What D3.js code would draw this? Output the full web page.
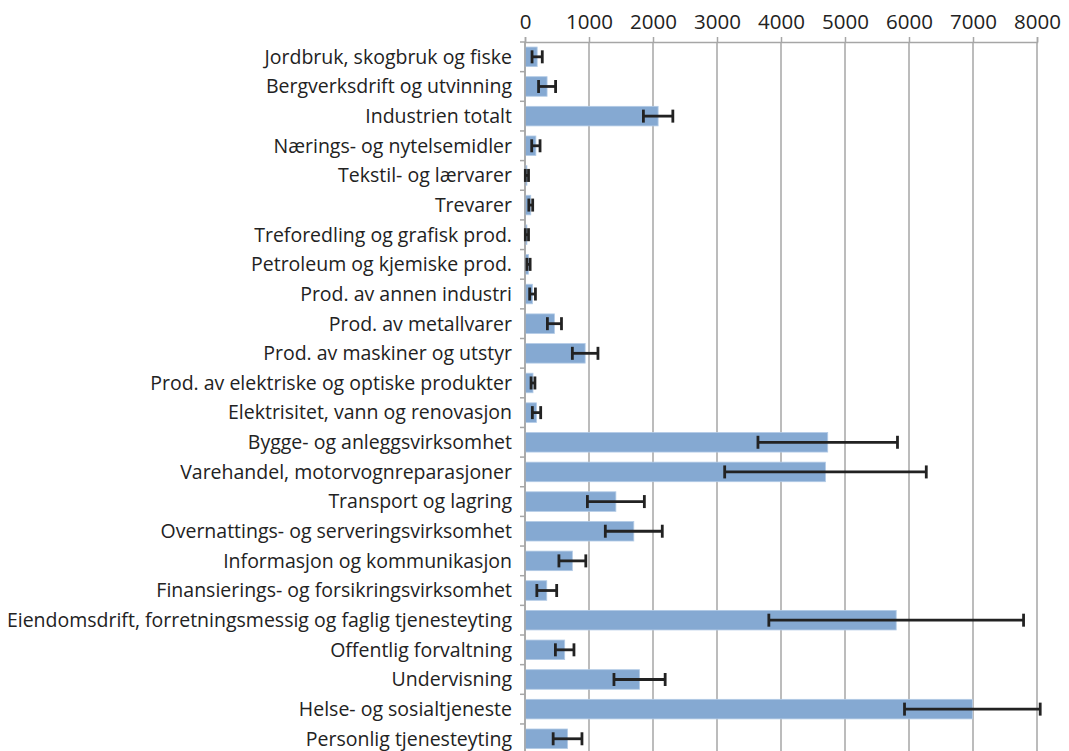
<!DOCTYPE html>
<html>
<head>
<meta charset="utf-8">
<script src="https://cdn.jsdelivr.net/npm/d3@7"></script>
<style>
  body { margin: 0; background: #fff; overflow: hidden; }
  svg { display: block; }
</style>
</head>
<body>
<div id="chart"></div>
<script>
// data
var categories = [
  "Jordbruk, skogbruk og fiske",
  "Bergverksdrift og utvinning",
  "Industrien totalt",
  "Nærings- og nytelsemidler",
  "Tekstil- og lærvarer",
  "Trevarer",
  "Treforedling og grafisk prod.",
  "Petroleum og kjemiske prod.",
  "Prod. av annen industri",
  "Prod. av metallvarer",
  "Prod. av maskiner og utstyr",
  "Prod. av elektriske og optiske produkter",
  "Elektrisitet, vann og renovasjon",
  "Bygge- og anleggsvirksomhet",
  "Varehandel, motorvognreparasjoner",
  "Transport og lagring",
  "Overnattings- og serveringsvirksomhet",
  "Informasjon og kommunikasjon",
  "Finansierings- og forsikringsvirksomhet",
  "Eiendomsdrift, forretningsmessig og faglig tjenesteyting",
  "Offentlig forvaltning",
  "Undervisning",
  "Helse- og sosialtjeneste",
  "Personlig tjenesteyting"
];
var values = [190, 345, 2080, 170, 30, 90, 30, 55, 118, 460, 940, 125, 180,
  4730, 4695, 1420, 1700, 740, 340, 5800, 620, 1790, 6990, 665];
var errors = [80, 133, 230, 65, 25, 30, 25, 25, 45, 110, 200, 30, 65,
  1090, 1575, 445, 445, 210, 155, 1990, 145, 400, 1060, 225];
var tickValues = [0, 1000, 2000, 3000, 4000, 5000, 6000, 7000, 8000];

var data = categories.map(function (c, i) {
  return { name: c, value: values[i], err: errors[i] };
});

// set the dimensions and margins of the graph
var margin = { top: 42, right: 32, bottom: 0, left: 525 },
  width = 1037 - margin.left,
  height = 24 * 29.65;

var svg = d3.select("#chart")
  .append("svg")
  .attr("width", 1069)
  .attr("height", 751)
  .append("g")
  .attr("transform", "translate(" + margin.left + "," + margin.top + ")");

var x = d3.scaleLinear().domain([0, 8000]).range([0, width]);
var y = d3.scaleBand().domain(categories).range([0, height]).paddingInner(0.34).paddingOuter(0.17);

var font = "'Open Sans', sans-serif";
var grey = "#a6a6a6";

// gridlines
svg.selectAll(".grid")
  .data(tickValues)
  .enter()
  .append("line")
  .attr("x1", d => x(d)).attr("x2", d => x(d))
  .attr("y1", 0).attr("y2", height)
  .style("stroke", grey)
  .style("stroke-width", 1.5);

// top axis
var xAxis = svg.append("g")
  .call(d3.axisTop(x).tickValues(tickValues).tickSize(5).tickPadding(8).tickFormat(d3.format("d")));
xAxis.select(".domain").style("stroke", grey).style("stroke-width", 1.5);
xAxis.selectAll(".tick line").style("stroke", grey).style("stroke-width", 1.5);
xAxis.selectAll("text")
  .style("font-family", font)
  .style("font-size", "20.5px")
  .style("fill", "#222");

// bars
svg.selectAll("rect")
  .data(data)
  .enter()
  .append("rect")
  .attr("x", x(0))
  .attr("y", d => y(d.name))
  .attr("width", d => x(d.value) - x(0))
  .attr("height", y.bandwidth())
  .style("fill", "#85a9d2")
  .style("stroke", "#b3cbe6")
  .style("stroke-width", 0.8);

// left axis (ticks at band boundaries)
var bounds = d3.range(categories.length + 1).map(i => i * y.step());
svg.append("line")
  .attr("x1", 0).attr("x2", 0).attr("y1", 0).attr("y2", height)
  .style("stroke", grey).style("stroke-width", 1.5);
svg.selectAll(".ytick")
  .data(bounds)
  .enter()
  .append("line")
  .attr("x1", -5).attr("x2", 0)
  .attr("y1", d => d).attr("y2", d => d)
  .style("stroke", grey).style("stroke-width", 1.5);

// category labels
svg.selectAll(".label")
  .data(data)
  .enter()
  .append("text")
  .attr("x", -13)
  .attr("y", d => y(d.name) + y.bandwidth() / 2)
  .attr("dy", "0.35em")
  .attr("text-anchor", "end")
  .text(d => d.name)
  .style("font-family", font)
  .style("font-size", "19.5px")
  .style("fill", "#222");

// error bars
var capH = 6.5;
var eb = svg.selectAll(".err")
  .data(data)
  .enter()
  .append("g")
  .style("stroke", "#222")
  .style("stroke-width", 2.8);
eb.append("line")
  .attr("x1", d => x(d.value - d.err)).attr("x2", d => x(d.value + d.err))
  .attr("y1", d => y(d.name) + y.bandwidth() / 2)
  .attr("y2", d => y(d.name) + y.bandwidth() / 2);
eb.append("line")
  .attr("x1", d => x(d.value - d.err)).attr("x2", d => x(d.value - d.err))
  .attr("y1", d => y(d.name) + y.bandwidth() / 2 - capH)
  .attr("y2", d => y(d.name) + y.bandwidth() / 2 + capH);
eb.append("line")
  .attr("x1", d => x(d.value + d.err)).attr("x2", d => x(d.value + d.err))
  .attr("y1", d => y(d.name) + y.bandwidth() / 2 - capH)
  .attr("y2", d => y(d.name) + y.bandwidth() / 2 + capH);
</script>
</body>
</html>
